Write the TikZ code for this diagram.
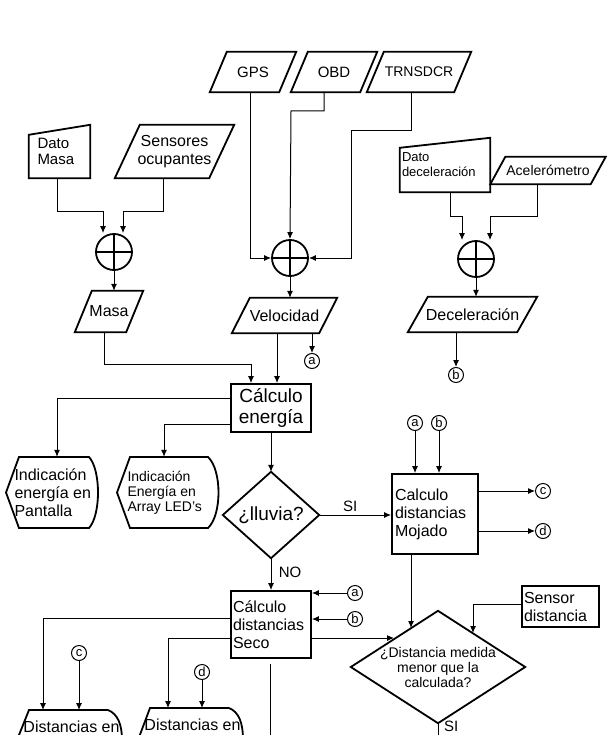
\documentclass[tikz,border=0pt]{standalone}
\usepackage{fontspec}
\setmainfont{Liberation Sans}
\usetikzlibrary{arrows.meta,calc}
\begin{document}
\begin{tikzpicture}[x=1pt,y=-1pt,
  box/.style={inner sep=0pt,align=center},
  shp/.style={line width=1.8pt},
  con/.style={line width=1pt},
  arr/.style={con,-{Latex[length=7pt,width=6pt]}},
  lc/.style={circle,draw,line width=1pt,inner sep=0pt,minimum size=15pt,font=\fontsize{13}{14}\selectfont},
  sum/.style={circle,draw,line width=1.8pt,inner sep=0pt,minimum size=36pt},
  f16/.style={font=\fontsize{19}{21}\selectfont},
  f14/.style={font=\fontsize{16}{18}\selectfont},
  f13/.style={font=\fontsize{15}{16}\selectfont},
  f12/.style={font=\fontsize{14}{15}\selectfont},
  f11/.style={font=\fontsize{13}{15}\selectfont}]
\useasboundingbox (0,0) rectangle (607,735);
\clip (0,0) rectangle (607,735);
\newcommand{\mypara}[2]{\draw[shp] ([xshift=#2pt]#1.north west) -- (#1.north east) -- ([xshift=-#2pt]#1.south east) -- (#1.south west) -- cycle;}
\newcommand{\mymanual}[1]{\draw[shp] ([yshift=-10pt]#1.north west) -- (#1.north east) -- (#1.south east) -- (#1.south west) -- cycle;}
\newcommand{\mysum}[1]{\draw[shp] (#1.north) -- (#1.south) (#1.west) -- (#1.east);}
% inputs
\node[box,f13,minimum width=86pt,minimum height=40pt] (gps) at (253,72) {GPS}; \mypara{gps}{17}
\node[box,f13,minimum width=86pt,minimum height=40pt] (obd) at (334,72) {OBD}; \mypara{obd}{17}
\node[box,f12,minimum width=104pt,minimum height=40pt] (trn) at (419,72) {TRNSDCR}; \mypara{trn}{17}
\node[box,f13,align=left,minimum width=61pt,minimum height=53pt] (dmasa) at (59.5,151.5) {\raisebox{-4pt}{\parbox{44pt}{Dato\\Masa}}}; \mymanual{dmasa}
\node[box,f14,minimum width=119pt,minimum height=53pt] (sens) at (174.5,151.5) {Sensores\\ocupantes}; \mypara{sens}{25}
\node[box,f11,align=left,minimum width=90pt,minimum height=54pt] (ddec) at (445,165) {\raisebox{-4pt}{\parbox{86pt}{Dato\\deceleración}}}; \mymanual{ddec}
\node[box,f12,minimum width=115pt,minimum height=27pt] (acel) at (548,170.5) {Acelerómetro}; \mypara{acel}{15}
% sums
\node[sum] (s1) at (114,252) {}; \mysum{s1}
\node[sum] (s2) at (290,258) {}; \mysum{s2}
\node[sum] (s3) at (476,259) {}; \mysum{s3}
% outputs
\node[box,f14,minimum width=68pt,minimum height=41pt] (masa) at (109,311.5) {Masa}; \mypara{masa}{17}
\node[box,f14,minimum width=105pt,minimum height=35pt] (vel) at (284.5,315.5) {Velocidad}; \mypara{vel}{18}
\node[box,f14,minimum width=129pt,minimum height=35pt] (decel) at (472.5,314.5) {Deceleración}; \mypara{decel}{20}
\node[lc] (a1) at (312,361) {a};
\node[lc] (b1) at (456,375) {b};
% connectors top
\draw[arr] (dmasa.south -| 57,0) |- (103,212) -- (s1.north -| 103,0);
\draw[arr] (sens.south -| 163,0) |- (123,212) -- (s1.north -| 123,0);
\draw[arr] (s1.south) -- (masa.north -| s1);
\draw[arr] (gps.south -| 250,0) |- (s2.west);
\draw[arr] (obd.south -| 324,0) |- (291,111) -- (s2.north);
\draw[arr] (trn.south -| 411,0) |- (351,131) |- (s2.east);
\draw[arr] (s2.south) -- (vel.north -| s2);
\draw[arr] (ddec.south -| 450,0) |- (462,217) -- (s3.north -| 462,0);
\draw[arr] (acel.south -| 537,0) |- (490,217) -- (s3.north -| 490,0);
\draw[arr] (s3.south) -- (decel.north -| s3);
\draw[arr] (decel.south -| b1) -- (b1.north);
\draw[arr] (vel.south -| a1) -- (a1.north);
% energia
\node[box,draw,shp,f16,minimum width=80pt,minimum height=48pt] (ener) at (271,408) {Cálculo\\energía};
\draw[arr] (masa.south -| 104,0) |- (251,364) -- (ener.north -| 251,0);
\draw[arr] (vel.south -| 277,0) -- (ener.north -| 277,0);
% displays
\node[box,f14,align=left,minimum width=93pt,minimum height=71pt] (disp1) at (54.5,492.5) {\parbox{80pt}{Indicación\\energía en\\Pantalla}};
\draw[shp] (6,492.5) -- (19,457) -- (89,457) .. controls (101,470) and (101,515) .. (89,528) -- (19,528) -- cycle;
\node[box,f12,align=left,minimum width=103pt,minimum height=71pt] (disp2) at (170.5,492.5) {\parbox{86pt}{Indicación\\Energía en\\Array LED's}};
\draw[shp] (117,492.5) -- (130,457) -- (208,457) .. controls (222,470) and (222,515) .. (208,528) -- (130,528) -- cycle;
\draw[arr] (ener.west |- 0,398) -| (disp1.north -| 57,0);
\draw[arr] (ener.west |- 0,424) -| (disp2.north -| 164,0);
% lluvia
\node[box,f16,minimum width=96pt,minimum height=86pt] (llu) at (271,515) {¿lluvia?};
\draw[shp] (llu.north) -- (llu.east) -- (llu.south) -- (llu.west) -- cycle;
\draw[arr] (ener.south) -- (llu.north);
\node[box,draw,shp,f14,align=left,minimum width=86pt,minimum height=80pt] (moj) at (435,514) {\parbox{80pt}{Calculo\\distancias\\Mojado}};
\draw[arr] (llu.east) -- node[above,f13,pos=0.43] {SI} (moj.west |- llu.east);
\node[lc] (a2) at (415,423) {a};
\node[lc] (b2) at (439,423) {b};
\draw[arr] (a2.south) -- (moj.north -| a2);
\draw[arr] (b2.south) -- (moj.north -| b2);
\node[lc] (c1) at (543,491) {c};
\node[lc] (d1) at (543,531) {d};
\draw[arr] (moj.east |- c1) -- (c1.west);
\draw[arr] (moj.east |- d1) -- (d1.west);
% seco
\node[box,draw,shp,f14,align=left,minimum width=80pt,minimum height=67pt] (seco) at (271,624.5) {\parbox{76pt}{Cálculo\\distancias\\Seco}};
\draw[arr] (llu.south) -- node[right,f13,pos=0.45,xshift=4pt] {NO} (seco.north);
\node[lc] (a3) at (355,593) {a};
\node[lc] (b3) at (355,619) {b};
\draw[arr] (a3.west) -- (seco.east |- a3);
\draw[arr] (b3.west) -- (seco.east |- b3);
% dist diamond
\node[box,f12,minimum width=174pt,minimum height=112pt] (dist) at (438,667) {¿Distancia medida\\menor que la\\calculada?};
\draw[shp] (dist.north) -- (dist.east) -- (dist.south) -- (dist.west) -- cycle;
\node[box,draw,shp,f14,align=left,minimum width=77pt,minimum height=41pt] (sensor) at (560.5,606.5) {\parbox{73pt}{Sensor\\distancia}};
\coordinate (eMoj) at (411,628);
\coordinate (eSen) at (473,633);
\coordinate (eSec) at (394,638);
\draw[arr] (moj.south -| eMoj) -- (eMoj);
\draw[arr] (sensor.west |- 0,604) -| (eSen);
\draw[arr] (seco.east |- eSec) -- (eSec);
\coordinate (bot) at (438,740);
\draw[con] (dist.south) -- (bot);
\node[f13,anchor=west,inner sep=0pt] (silab) at (444,726) {SI};
\coordinate (vt) at (270,664);
\coordinate (vb) at (270,740);
\draw[con] (vt) -- (vb);
% bottom displays
\node[box,f14,minimum width=105pt,minimum height=30pt] (disp3) at (71.5,727) {Distancias en};
\draw[shp] (17,740) -- (29,710) -- (108,710) .. controls (118,714) and (122,725) .. (122,740);
\node[box,f14,minimum width=105pt,minimum height=30pt] (disp4) at (192.5,725) {Distancias en};
\draw[shp] (138,740) -- (150,708) -- (229,708) .. controls (239,712) and (243,723) .. (243,740);
\node[lc] (c2) at (79,653) {c};
\node[lc] (d2) at (202,672) {d};
\draw[arr] (c2.south) -- (79,710);
\draw[arr] (d2.south) -- (202,708);
\draw[arr] (seco.west |- 0,618) -| (43,710);
\draw[arr] (seco.west |- 0,638) -| (168,708);
\end{tikzpicture}
\end{document}
